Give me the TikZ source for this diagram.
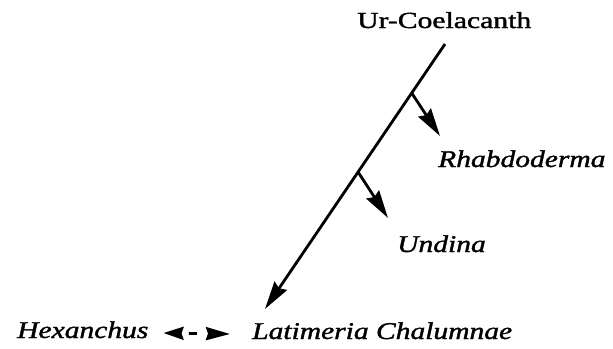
\documentclass[tikz,border=0pt]{standalone}
\usepackage{fontspec}
\setmainfont{Liberation Serif}
\newfontfamily\hfont{Liberation Serif}[FakeBold=1.3,ItalicFeatures={FakeBold=1.3}]
\usetikzlibrary{arrows.meta,calc}
\tikzset{
  lbl/.style={inner sep=0pt, anchor=base west, font=\hfont\fontsize{23}{27}\selectfont},
  ilbl/.style={inner sep=0pt, anchor=base west, font=\hfont\fontsize{24}{28}\selectfont\itshape},
  branch/.style={line width=2.8pt, -{Stealth[length=28pt,width=15pt,inset=3pt]}},
  dashar/.style={line width=2.8pt, {Stealth[length=20pt,width=13pt,inset=2pt]}-{Stealth[length=24pt,width=13pt,inset=2pt]},
    dash pattern=on 0pt off 8pt on 8pt off 60pt}
}
\newcommand{\wx}[1]{\scalebox{1.23}[1]{#1}}
\begin{document}
\begin{tikzpicture}[x=1pt,y=-1pt]
\useasboundingbox (0,0) rectangle (613,348);
\node[lbl] (ur) at (357,28) {\scalebox{1.29}[1]{Ur-Coelacanth}};
\node[ilbl] (rh) at (438,167) {\wx{Rhabdoderma}};
\node[ilbl] (un) at (397,252) {\wx{Undina}};
\node[ilbl] (la) at (252,339) {\wx{Latimeria Chalumnae}};
\node[ilbl] (hx) at (17,338) {\wx{Hexanchus}};
\coordinate (top) at (445,44);
\coordinate (tip) at (265,309);
\coordinate (b1) at ($(top)!0.185!(tip)$);
\coordinate (b2) at ($(top)!0.483!(tip)$);
\coordinate (t1) at (440,136);
\coordinate (t2) at (388,218);
\draw[branch] (top) -- (tip);
\draw[branch] (b1) -- (t1);
\draw[branch] (b2) -- (t2);
\draw[dashar] ([xshift=15pt,yshift=5pt]hx.base east) -- ([xshift=-22pt,yshift=5pt]la.base west);
\end{tikzpicture}
\end{document}
